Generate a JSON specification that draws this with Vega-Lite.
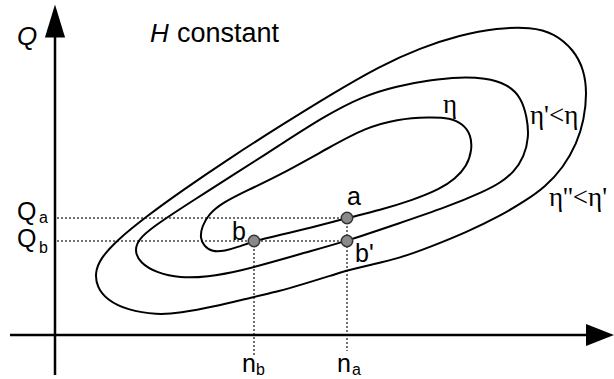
{
  "$schema": "https://vega.github.io/schema/vega-lite/v6.json",
  "width": 614,
  "height": 379,
  "padding": 0,
  "autosize": {"type": "none"},
  "background": "white",
  "config": {"view": {"stroke": null}},
  "datasets": {
    "loops": [
      {"loop": "eta", "i": 0, "n": 14.5, "Q": 9.7},
      {"loop": "eta", "i": 1, "n": 14.7, "Q": 10.9},
      {"loop": "eta", "i": 2, "n": 15.4, "Q": 12.1},
      {"loop": "eta", "i": 3, "n": 16.7, "Q": 13.2},
      {"loop": "eta", "i": 4, "n": 19.3, "Q": 14.5},
      {"loop": "eta", "i": 5, "n": 22.5, "Q": 16.0},
      {"loop": "eta", "i": 6, "n": 27.5, "Q": 18.8},
      {"loop": "eta", "i": 7, "n": 31.0, "Q": 20.7},
      {"loop": "eta", "i": 8, "n": 34.2, "Q": 21.6},
      {"loop": "eta", "i": 9, "n": 37.5, "Q": 21.8},
      {"loop": "eta", "i": 10, "n": 39.5, "Q": 21.7},
      {"loop": "eta", "i": 11, "n": 40.8, "Q": 21.1},
      {"loop": "eta", "i": 12, "n": 41.6, "Q": 20.0},
      {"loop": "eta", "i": 13, "n": 41.7, "Q": 18.5},
      {"loop": "eta", "i": 14, "n": 41.2, "Q": 16.9},
      {"loop": "eta", "i": 15, "n": 40.0, "Q": 15.6},
      {"loop": "eta", "i": 16, "n": 38.5, "Q": 14.6},
      {"loop": "eta", "i": 17, "n": 35.8, "Q": 13.5},
      {"loop": "eta", "i": 18, "n": 32.5, "Q": 12.5},
      {"loop": "eta", "i": 19, "n": 29.2, "Q": 11.7},
      {"loop": "eta", "i": 20, "n": 25.5, "Q": 10.7},
      {"loop": "eta", "i": 21, "n": 22.5, "Q": 10.0},
      {"loop": "eta", "i": 22, "n": 19.9, "Q": 9.4},
      {"loop": "eta", "i": 23, "n": 18.3, "Q": 8.8},
      {"loop": "eta", "i": 24, "n": 17.0, "Q": 8.4},
      {"loop": "eta", "i": 25, "n": 15.7, "Q": 8.3},
      {"loop": "eta", "i": 26, "n": 14.9, "Q": 8.9},

      {"loop": "eta1", "i": 0, "n": 7.9, "Q": 8.5},
      {"loop": "eta1", "i": 1, "n": 8.5, "Q": 9.8},
      {"loop": "eta1", "i": 2, "n": 10.5, "Q": 11.3},
      {"loop": "eta1", "i": 3, "n": 14.2, "Q": 13.7},
      {"loop": "eta1", "i": 4, "n": 17.5, "Q": 15.8},
      {"loop": "eta1", "i": 5, "n": 22.5, "Q": 19.0},
      {"loop": "eta1", "i": 6, "n": 26.8, "Q": 21.8},
      {"loop": "eta1", "i": 7, "n": 30.8, "Q": 23.9},
      {"loop": "eta1", "i": 8, "n": 34.2, "Q": 24.9},
      {"loop": "eta1", "i": 9, "n": 37.5, "Q": 25.5},
      {"loop": "eta1", "i": 10, "n": 40.5, "Q": 25.8},
      {"loop": "eta1", "i": 11, "n": 43.0, "Q": 25.7},
      {"loop": "eta1", "i": 12, "n": 45.2, "Q": 25.1},
      {"loop": "eta1", "i": 13, "n": 46.6, "Q": 23.8},
      {"loop": "eta1", "i": 14, "n": 47.2, "Q": 21.8},
      {"loop": "eta1", "i": 15, "n": 47.4, "Q": 19.8},
      {"loop": "eta1", "i": 16, "n": 46.9, "Q": 17.8},
      {"loop": "eta1", "i": 17, "n": 45.9, "Q": 16.3},
      {"loop": "eta1", "i": 18, "n": 44.5, "Q": 15.2},
      {"loop": "eta1", "i": 19, "n": 43.0, "Q": 14.4},
      {"loop": "eta1", "i": 20, "n": 39.2, "Q": 12.8},
      {"loop": "eta1", "i": 21, "n": 34.2, "Q": 11.1},
      {"loop": "eta1", "i": 22, "n": 29.2, "Q": 9.4},
      {"loop": "eta1", "i": 23, "n": 24.5, "Q": 8.1},
      {"loop": "eta1", "i": 24, "n": 22.5, "Q": 7.5},
      {"loop": "eta1", "i": 25, "n": 18.5, "Q": 6.4},
      {"loop": "eta1", "i": 26, "n": 15.2, "Q": 5.8},
      {"loop": "eta1", "i": 27, "n": 12.5, "Q": 5.7},
      {"loop": "eta1", "i": 28, "n": 10.2, "Q": 6.2},
      {"loop": "eta1", "i": 29, "n": 8.5, "Q": 7.2},

      {"loop": "eta2", "i": 0, "n": 4.0, "Q": 6.2},
      {"loop": "eta2", "i": 1, "n": 4.5, "Q": 7.6},
      {"loop": "eta2", "i": 2, "n": 6.2, "Q": 9.5},
      {"loop": "eta2", "i": 3, "n": 9.2, "Q": 11.9},
      {"loop": "eta2", "i": 4, "n": 12.5, "Q": 14.3},
      {"loop": "eta2", "i": 5, "n": 17.5, "Q": 17.7},
      {"loop": "eta2", "i": 6, "n": 22.5, "Q": 20.9},
      {"loop": "eta2", "i": 7, "n": 27.5, "Q": 24.0},
      {"loop": "eta2", "i": 8, "n": 32.5, "Q": 26.9},
      {"loop": "eta2", "i": 9, "n": 36.5, "Q": 28.7},
      {"loop": "eta2", "i": 10, "n": 40.5, "Q": 30.0},
      {"loop": "eta2", "i": 11, "n": 44.2, "Q": 30.7},
      {"loop": "eta2", "i": 12, "n": 47.6, "Q": 30.8},
      {"loop": "eta2", "i": 13, "n": 49.9, "Q": 30.2},
      {"loop": "eta2", "i": 14, "n": 51.9, "Q": 28.5},
      {"loop": "eta2", "i": 15, "n": 52.9, "Q": 26.5},
      {"loop": "eta2", "i": 16, "n": 53.2, "Q": 24.2},
      {"loop": "eta2", "i": 17, "n": 52.9, "Q": 21.5},
      {"loop": "eta2", "i": 18, "n": 52.2, "Q": 19.2},
      {"loop": "eta2", "i": 19, "n": 50.8, "Q": 16.7},
      {"loop": "eta2", "i": 20, "n": 49.0, "Q": 14.8},
      {"loop": "eta2", "i": 21, "n": 47.0, "Q": 13.4},
      {"loop": "eta2", "i": 22, "n": 44.5, "Q": 11.9},
      {"loop": "eta2", "i": 23, "n": 41.2, "Q": 10.3},
      {"loop": "eta2", "i": 24, "n": 37.5, "Q": 8.8},
      {"loop": "eta2", "i": 25, "n": 34.5, "Q": 7.7},
      {"loop": "eta2", "i": 26, "n": 31.5, "Q": 7.0},
      {"loop": "eta2", "i": 27, "n": 29.2, "Q": 6.45},
      {"loop": "eta2", "i": 28, "n": 27.8, "Q": 6.0},
      {"loop": "eta2", "i": 29, "n": 24.5, "Q": 5.0},
      {"loop": "eta2", "i": 30, "n": 22.5, "Q": 4.4},
      {"loop": "eta2", "i": 31, "n": 19.8, "Q": 3.8},
      {"loop": "eta2", "i": 32, "n": 15.8, "Q": 2.8},
      {"loop": "eta2", "i": 33, "n": 12.5, "Q": 2.2},
      {"loop": "eta2", "i": 34, "n": 10.2, "Q": 2.0},
      {"loop": "eta2", "i": 35, "n": 7.2, "Q": 2.5},
      {"loop": "eta2", "i": 36, "n": 5.2, "Q": 3.5},
      {"loop": "eta2", "i": 37, "n": 4.2, "Q": 4.8}
    ],
    "axes": [
      {"n": -4.5, "Q": 0, "n2": 55.0, "Q2": 0},
      {"n": 0, "Q": -4.0, "n2": 0, "Q2": 30.5}
    ],
    "guides": [
      {"n": 0.2, "Q": 11.7, "n2": 29.2, "Q2": 11.7},
      {"n": 0.2, "Q": 9.4, "n2": 29.2, "Q2": 9.4},
      {"n": 19.9, "Q": 9.4, "n2": 19.9, "Q2": -2.0},
      {"n": 29.2, "Q": 11.7, "n2": 29.2, "Q2": -1.6}
    ],
    "points": [
      {"name": "a", "n": 29.2, "Q": 11.7},
      {"name": "b'", "n": 29.2, "Q": 9.4},
      {"name": "b", "n": 19.9, "Q": 9.4}
    ]
  },
  "encoding": {
    "x": {"field": "n", "type": "quantitative", "scale": {"domain": [-5.5, 55.9], "nice": false, "zero": false}, "axis": null},
    "y": {"field": "Q", "type": "quantitative", "scale": {"domain": [-4.4, 33.5], "nice": false, "zero": false}, "axis": null}
  },
  "layer": [
    {
      "data": {"name": "guides"},
      "mark": {"type": "rule", "color": "#444", "strokeWidth": 1.5, "strokeDash": [2, 2]},
      "encoding": {"x2": {"field": "n2"}, "y2": {"field": "Q2"}}
    },
    {
      "data": {"name": "axes"},
      "mark": {"type": "rule", "color": "black", "strokeWidth": 2.5},
      "encoding": {"x2": {"field": "n2"}, "y2": {"field": "Q2"}}
    },
    {
      "data": {"values": [{"n": 0, "Q": 31.4}]},
      "mark": {"type": "point", "shape": "M0,-1L0.61,1L-0.61,1Z", "size": 1089, "filled": true, "color": "black", "opacity": 1}
    },
    {
      "data": {"values": [{"n": 54.5, "Q": 0}]},
      "mark": {"type": "point", "shape": "M1,0L-1,-0.79L-1,0.79Z", "size": 784, "filled": true, "color": "black", "opacity": 1}
    },
    {
      "data": {"name": "loops"},
      "mark": {"type": "line", "interpolate": "basis-closed", "color": "black", "strokeWidth": 2},
      "encoding": {"order": {"field": "i", "type": "quantitative"}, "detail": {"field": "loop"}}
    },
    {
      "data": {"name": "points"},
      "mark": {"type": "point", "shape": "circle", "size": 130, "filled": true, "fill": "#8a8a8a", "stroke": "#333", "strokeWidth": 1.5, "opacity": 1}
    },
    {
      "data": {"values": [
        {"text": "Q", "n": -3.8, "Q": 29.0},
        {"text": "H", "n": 9.5, "Q": 29.3}
      ]},
      "mark": {"type": "text", "align": "left", "baseline": "alphabetic", "font": "Liberation Sans", "fontStyle": "italic", "fontSize": 26, "color": "black"},
      "encoding": {"text": {"field": "text"}}
    },
    {
      "data": {"values": [{"text": "constant", "n": 12.2, "Q": 29.3}]},
      "mark": {"type": "text", "align": "left", "baseline": "alphabetic", "font": "Liberation Sans", "fontSize": 27, "color": "black"},
      "encoding": {"text": {"field": "text"}}
    },
    {
      "data": {"values": [
        {"text": "Q", "n": -3.8, "Q": 11.5},
        {"text": "Q", "n": -3.8, "Q": 8.8},
        {"text": "n", "n": 18.7, "Q": -3.7},
        {"text": "n", "n": 28.2, "Q": -3.7},
        {"text": "a", "n": 29.2, "Q": 13.0},
        {"text": "b", "n": 17.7, "Q": 9.5},
        {"text": "b'", "n": 30.0, "Q": 7.3}
      ]},
      "mark": {"type": "text", "align": "left", "baseline": "alphabetic", "font": "Liberation Sans", "fontSize": 25, "color": "black"},
      "encoding": {"text": {"field": "text"}}
    },
    {
      "data": {"values": [
        {"text": "a", "n": -1.6, "Q": 11.2},
        {"text": "b", "n": -1.6, "Q": 8.2},
        {"text": "b", "n": 20.1, "Q": -4.0},
        {"text": "a", "n": 29.7, "Q": -4.0}
      ]},
      "mark": {"type": "text", "align": "left", "baseline": "alphabetic", "font": "Liberation Sans", "fontSize": 16, "color": "black"},
      "encoding": {"text": {"field": "text"}}
    },
    {
      "data": {"values": [
        {"text": "η", "n": 38.8, "Q": 22.2},
        {"text": "η'<η", "n": 47.5, "Q": 21.1},
        {"text": "η''<η'", "n": 49.4, "Q": 12.9}
      ]},
      "mark": {"type": "text", "align": "left", "baseline": "alphabetic", "font": "Liberation Serif", "fontSize": 27, "color": "black"},
      "encoding": {"text": {"field": "text"}}
    }
  ]
}
